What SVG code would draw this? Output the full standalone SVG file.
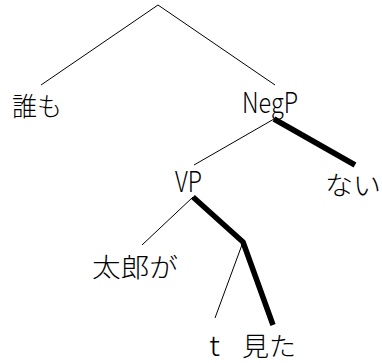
<svg xmlns="http://www.w3.org/2000/svg" width="382" height="363" viewBox="0 0 382 363">
<style>
.t{font-family:"Noto Sans CJK JP","DejaVu Sans",sans-serif;font-size:26px;font-weight:300;fill:#000;}
.l{font-size:28px;}
.thin{stroke:#000;stroke-width:1;fill:none;}
.thick{stroke:#000;stroke-width:5.5;fill:none;stroke-linejoin:round;}
</style>
<rect width="382" height="363" fill="#fff"/>
<g id="connectors">
<line class="thin" x1="158" y1="5" x2="41" y2="85"/>
<line class="thin" x1="158" y1="5" x2="275" y2="85"/>
<line class="thin" x1="274" y1="119" x2="194" y2="165"/>
<line class="thick" x1="274" y1="119" x2="355" y2="165"/>
<line class="thin" x1="193" y1="197" x2="142" y2="245"/>
<polyline class="thick" points="193,197 243,242 273,325"/>
<line class="thin" x1="243" y1="242" x2="215" y2="318"/>
</g>
<g id="n-daremo"><text class="t" x="12" y="116" textLength="50" lengthAdjust="spacingAndGlyphs">誰も</text></g>
<g id="n-negp"><text class="t l" x="242" y="113" textLength="56" lengthAdjust="spacingAndGlyphs">NegP</text></g>
<g id="n-vp"><text class="t l" x="175" y="192" textLength="27" lengthAdjust="spacingAndGlyphs">VP</text></g>
<g id="n-nai"><text class="t" x="325" y="195" textLength="56" lengthAdjust="spacingAndGlyphs">ない</text></g>
<g id="n-taroga"><text class="t" x="92" y="277" textLength="86" lengthAdjust="spacingAndGlyphs">太郎が</text></g>
<g id="n-t"><text class="t l" x="209" y="356" textLength="11" lengthAdjust="spacingAndGlyphs">t</text></g>
<g id="n-mita"><text class="t" x="242" y="356" textLength="54" lengthAdjust="spacingAndGlyphs">見た</text></g>
</svg>
